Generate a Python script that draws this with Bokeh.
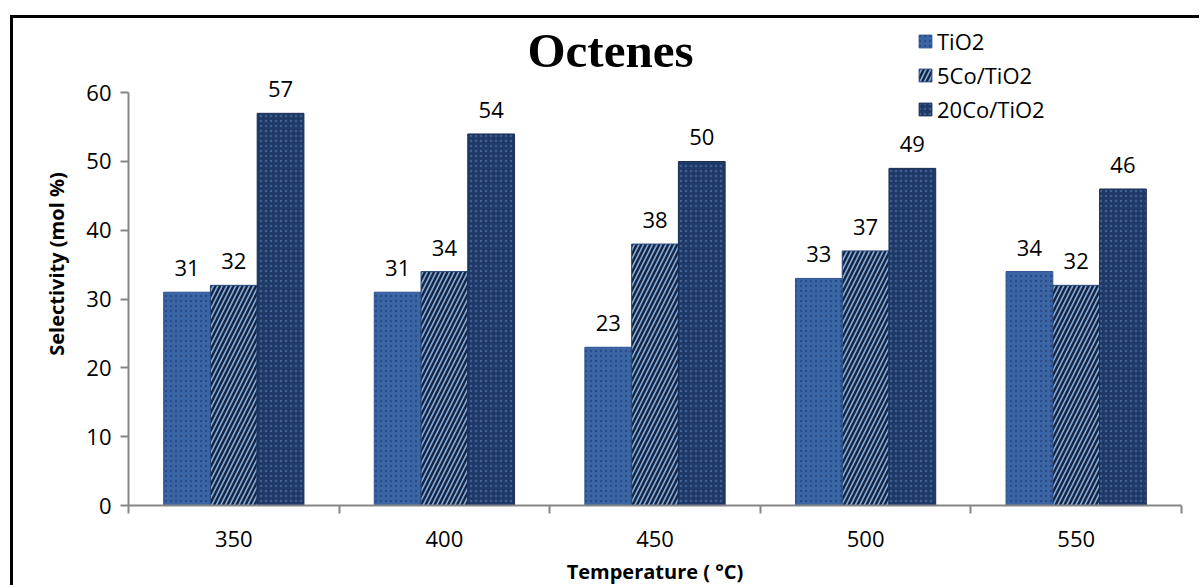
from bokeh.plotting import figure
from bokeh.models import ColumnDataSource, Range1d, FixedTicker, Legend, LegendItem, Label
from bokeh.transform import dodge
from bokeh.core.properties import value
from bokeh.embed import file_html
from bokeh.resources import INLINE

temperatures = ["350", "400", "450", "500", "550"]
series_names = ["TiO2", "5Co/TiO2", "20Co/TiO2"]
tio2 = [31, 31, 23, 33, 34]
co5_tio2 = [32, 34, 38, 37, 32]
co20_tio2 = [57, 54, 50, 49, 46]
y_ticks = [0, 10, 20, 30, 40, 50, 60]

pos = [i + 0.5 for i in range(len(temperatures))]
source = ColumnDataSource(dict(pos=pos, tio2=tio2, co5=co5_tio2, co20=co20_tio2,
                               l1=[str(v) for v in tio2], l2=[str(v) for v in co5_tio2],
                               l3=[str(v) for v in co20_tio2]))

FONT = "Open Sans"

p = figure(width=1189, height=570, output_backend="svg", toolbar_location=None,
           x_range=Range1d(0, len(temperatures)), y_range=Range1d(0, 70.2),
           min_border_left=115, min_border_right=21, min_border_top=4, min_border_bottom=83)
p.styles = {"border-top": "3px solid black", "border-left": "3px solid black",
            "margin-left": "10px", "margin-top": "15px"}
p.outline_line_color = None
p.xgrid.grid_line_color = None
p.ygrid.grid_line_color = None
p.background_fill_color = "white"

bw = 0.222
styles = [
    dict(field="tio2", off=-bw, fill="#3b66a6", hatch=".", hcolor="#2a4c84", hscale=5, hweight=1.5, line="#2f5390", lab="l1"),
    dict(field="co5", off=0.0, fill="#7ea8dc", hatch="/", hcolor="#16243f", hscale=9, hweight=2.4, line="#2b4a7c", lab="l2"),
    dict(field="co20", off=bw, fill="#1f3967", hatch=".", hcolor="#3f5f93", hscale=5, hweight=1.5, line="#1a2f55", lab="l3"),
]
renderers = []
for s in styles:
    r = p.vbar(x=dodge("pos", s["off"], range=p.x_range), top=s["field"], width=bw, bottom=0,
               source=source, fill_color=s["fill"], hatch_pattern=s["hatch"], hatch_color=s["hcolor"],
               hatch_scale=s["hscale"], hatch_weight=s["hweight"], line_color=s["line"], line_width=1)
    renderers.append(r)
    p.text(x=dodge("pos", s["off"], range=p.x_range), y=s["field"], text=s["lab"], source=source,
           text_align="center", text_baseline="bottom", y_offset=-16,
           text_font=value(FONT), text_font_size="22px", text_color="black")

# axes
xax = p.xaxis[0]
xax.ticker = FixedTicker(ticks=pos, minor_ticks=list(range(len(temperatures) + 1)))
xax.major_label_overrides = {pv: t for pv, t in zip(pos, temperatures)}
xax.major_tick_line_color = None
xax.major_tick_out = 0
xax.minor_tick_in = 0
xax.minor_tick_out = 8
xax.minor_tick_line_color = "#868686"
xax.minor_tick_line_width = 2
xax.axis_line_color = "#868686"
xax.axis_line_width = 2
xax.major_label_standoff = 17
xax.major_label_text_font = FONT
xax.major_label_text_font_size = "22px"
xax.major_label_text_color = "black"
xax.axis_label = "Temperature ( °C)"
xax.axis_label_text_font = FONT
xax.axis_label_text_font_style = "bold"
xax.axis_label_text_font_size = "20px"
xax.axis_label_text_color = "black"
xax.axis_label_standoff = 8

yax = p.yaxis[0]
yax.ticker = FixedTicker(ticks=y_ticks)
yax.bounds = (y_ticks[0], y_ticks[-1])
yax.minor_tick_line_color = None
yax.major_tick_in = 0
yax.major_tick_out = 8
yax.major_tick_line_color = "#868686"
yax.major_tick_line_width = 2
yax.axis_line_color = "#868686"
yax.axis_line_width = 2
yax.major_label_standoff = 9
yax.major_label_text_font = FONT
yax.major_label_text_font_size = "22px"
yax.major_label_text_color = "black"
yax.axis_label = "Selectivity (mol %)"
yax.axis_label_text_font = FONT
yax.axis_label_text_font_style = "bold"
yax.axis_label_text_font_size = "20px"
yax.axis_label_text_color = "black"
yax.axis_label_standoff = 13

title = Label(x=482, y=455, x_units="screen", y_units="screen", text="Octenes",
              text_align="center", text_baseline="middle", text_font="Liberation Serif",
              text_font_size="49px", text_font_style="bold", text_color="black")
p.add_layout(title)

legend = Legend(items=[LegendItem(label=n, renderers=[r]) for n, r in zip(series_names, renderers)],
                location=(789, 381), glyph_width=16, glyph_height=16, spacing=4,
                label_text_font=FONT, label_text_font_size="22px", label_standoff=4,
                label_text_color="black",
                background_fill_alpha=0, border_line_color=None, padding=0, margin=0)
p.add_layout(legend, "center")

open("out.html", "w").write(file_html(p, INLINE))
